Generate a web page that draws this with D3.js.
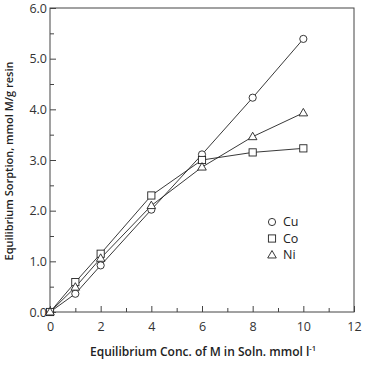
<!DOCTYPE html>
<html>
<head>
<meta charset="utf-8">
<script src="https://cdn.jsdelivr.net/npm/d3@7"></script>
<style>
  body { margin: 0; background: #fff; }
  svg text { font-family: "Open Sans", sans-serif; fill: #222; }
</style>
</head>
<body>
<svg id="chart" width="374" height="368"></svg>
<script>
// data
const conc = [0, 1, 2, 4, 6, 8, 10];
const cu = [0, 0.36, 0.92, 2.02, 3.11, 4.23, 5.39];
const co = [0, 0.59, 1.15, 2.30, 3.00, 3.15, 3.23];
const ni = [0, 0.49, 1.06, 2.10, 2.86, 3.46, 3.93];
const xTicks = [0, 2, 4, 6, 8, 10, 12];
const yTicks = [0, 1, 2, 3, 4, 5, 6];

const svg = d3.select("#chart");
const mLeft = 50, mRight = 354, mTop = 8, mBottom = 312;

const x = d3.scaleLinear().domain([0, 12]).range([mLeft, mRight]);
const y = d3.scaleLinear().domain([0, 6]).range([mBottom, mTop]);

// frame
svg.append("rect")
  .attr("x", mLeft).attr("y", mTop)
  .attr("width", mRight - mLeft).attr("height", mBottom - mTop)
  .attr("fill", "none").attr("stroke", "#444").attr("stroke-width", 1);

// x axis, ticks pointing inward
const xAxis = svg.append("g").attr("transform", "translate(0," + mBottom + ")")
  .call(d3.axisBottom(x).tickValues(xTicks).tickSize(-6).tickPadding(10).tickFormat(d3.format("d")));
svg.append("g").attr("transform", "translate(0," + mBottom + ")")
  .call(d3.axisBottom(x).tickValues(d3.range(1, 12, 2)).tickSize(-4).tickFormat(""));

const yAxis = svg.append("g").attr("transform", "translate(" + mLeft + ",0)")
  .call(d3.axisLeft(y).tickValues(yTicks).tickSize(-6).tickPadding(8).tickFormat(d3.format(".1f")));
svg.append("g").attr("transform", "translate(" + mLeft + ",0)")
  .call(d3.axisLeft(y).tickValues(d3.range(0.5, 6, 1)).tickSize(-4).tickFormat(""));

svg.selectAll(".domain").remove();
svg.selectAll(".tick line").attr("stroke", "#444");
svg.selectAll(".tick text").attr("font-size", 12.5).style("fill", "#333");
yAxis.selectAll(".tick text").attr("dx", 5);

// series
const series = [
  { name: "Cu", vals: cu, shape: "circle" },
  { name: "Co", vals: co, shape: "square" },
  { name: "Ni", vals: ni, shape: "triangle" }
];

const line = d3.line()
  .x((d, i) => x(conc[i]))
  .y(d => y(d));

function marker(g, shape, cx, cy) {
  if (shape === "circle") {
    g.append("circle").attr("cx", cx).attr("cy", cy).attr("r", 3.6)
      .attr("fill", "#fff").attr("stroke", "#222").attr("stroke-width", 0.9);
  } else if (shape === "square") {
    g.append("rect").attr("x", cx - 3.6).attr("y", cy - 3.6).attr("width", 7.2).attr("height", 7.2)
      .attr("fill", "#fff").attr("stroke", "#222").attr("stroke-width", 0.9);
  } else {
    const p = d3.symbol().type(d3.symbolTriangle).size(32);
    g.append("path").attr("d", p()).attr("transform", "translate(" + cx + "," + (cy + 0.5) + ")")
      .attr("fill", "#fff").attr("stroke", "#222").attr("stroke-width", 0.9);
  }
}

series.forEach(s => {
  svg.append("path").datum(s.vals).attr("d", line)
    .attr("fill", "none").attr("stroke", "#222").attr("stroke-width", 0.9);
});
series.forEach(s => {
  const g = svg.append("g");
  s.vals.forEach((v, i) => marker(g, s.shape, x(conc[i]), y(v)));
});

// legend
series.forEach((s, i) => {
  const ly = 222 + i * 16.5;
  const g = svg.append("g");
  marker(g, s.shape, 272, ly);
  g.append("text").attr("x", 283).attr("y", ly).attr("dy", "0.35em")
    .attr("font-size", 12.5).text(s.name);
});

// axis titles
svg.append("text")
  .attr("x", 203).attr("y", 356)
  .attr("text-anchor", "middle").attr("font-size", 12).attr("font-weight", 600)
  .html('Equilibrium Conc. of M in Soln. mmol l<tspan dy="-5" font-size="7.5">-1</tspan>');

svg.append("text")
  .attr("transform", "translate(13," + 161 + ") rotate(-90)")
  .attr("text-anchor", "middle").attr("font-size", 11).attr("font-weight", 600)
  .text("Equilibrium Sorption, mmol M/g resin");
</script>
</body>
</html>
